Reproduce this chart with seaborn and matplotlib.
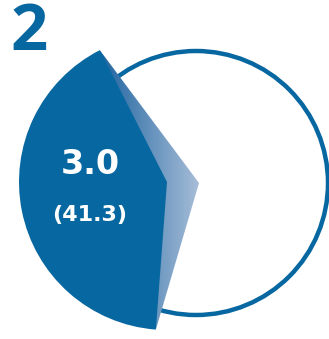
import numpy as np
import matplotlib
matplotlib.use("Agg")
import matplotlib.pyplot as plt
import seaborn as sns
from matplotlib.patches import Circle, Polygon
from matplotlib.colors import LinearSegmentedColormap

sns.set_theme(style="white")

# data
panel_label = "2"
share = [41.3, 58.7]        # highlighted slice vs rest (%)
value_label = "3.0"
share_label = "(41.3)"

blue = "#0767a0"

fig = plt.figure(figsize=(3.29, 3.39), dpi=100)
ax = fig.add_axes([0, 0, 1, 1])

# full circle (total)
ax.add_patch(Circle((196, 156), 132, facecolor="white", edgecolor=blue, lw=3.2, zorder=1))

# highlighted slice, pulled out to the left
wedges, _ = ax.pie(share, startangle=117, counterclock=True, radius=148,
                   center=(167, 157), colors=[blue, "none"],
                   wedgeprops=dict(linewidth=0))
w = wedges[0]
wedges[1].set_visible(False)
w.set_zorder(3)

# side face of the slice: from the slice corners back to circle centre
cx, cy = w.center
t1, t2 = np.deg2rad(w.theta1), np.deg2rad(w.theta2)
top = (cx + w.r * np.cos(t1), cy + w.r * np.sin(t1))
bot = (cx + w.r * np.cos(t2), cy + w.r * np.sin(t2))
back = (199, 156)
side = Polygon([top, back, bot], closed=True, facecolor="none", edgecolor="none")
ax.add_patch(side)
xs = [top[0], back[0], bot[0]]
ys = [top[1], back[1], bot[1]]
grad = np.linspace(0, 1, 256).reshape(1, -1)
cmap = LinearSegmentedColormap.from_list("side", ["#1f64a0", "#a8bed8"])
im = ax.imshow(grad, extent=[min(xs), max(xs), min(ys), max(ys)],
               cmap=cmap, aspect="auto", zorder=2)
im.set_clip_path(side)

ax.text(90, 339 - 165, value_label, color="white", fontsize=24, fontweight="bold",
        ha="center", va="center", family="DejaVu Sans", zorder=4)
ax.text(90, 339 - 215, share_label, color="white", fontsize=16, fontweight="bold",
        ha="center", va="center", family="DejaVu Sans", zorder=4)
ax.text(29, 339 - 34, panel_label, color=blue, fontsize=47, fontweight="bold",
        ha="center", va="center", family="Open Sans", zorder=4)

ax.set_xlim(0, 329)
ax.set_ylim(0, 339)
ax.set_aspect("auto")
ax.axis("off")

fig.savefig("out.png", dpi=100)
